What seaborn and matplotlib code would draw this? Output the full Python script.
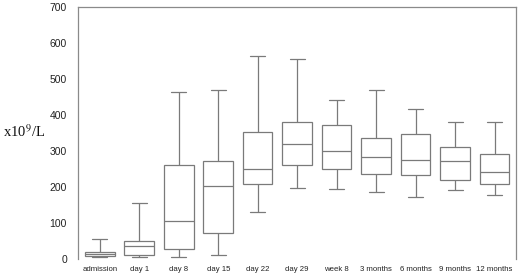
import matplotlib
matplotlib.use("Agg")
import matplotlib.pyplot as plt
import seaborn as sns
import pandas as pd

categories = ["admission", "day 1", "day 8", "day 15", "day 22", "day 29",
              "week 8", "3 months", "6 months", "9 months", "12 months"]
whisker_low = [6, 6, 8, 13, 132, 198, 195, 186, 174, 192, 180]
q1 = [10, 12, 28, 74, 210, 262, 250, 237, 234, 220, 210]
median = [14, 37, 108, 205, 250, 320, 300, 284, 276, 273, 244]
q3 = [20, 52, 261, 274, 353, 381, 373, 338, 348, 313, 293]
whisker_high = [56, 157, 465, 472, 565, 558, 443, 472, 419, 381, 381]
y_ticks = [0, 100, 200, 300, 400, 500, 600, 700]

rows = []
for i, c in enumerate(categories):
    for v in (whisker_low[i], q1[i], median[i], q3[i], whisker_high[i]):
        rows.append({"time": c, "value": v})
df = pd.DataFrame(rows)

sns.set_theme(style="white")
plt.rcParams["mathtext.fontset"] = "stix"
fig = plt.figure(figsize=(5.2, 2.74), dpi=100)
ax = fig.add_axes([0.15, 0.053, 0.843, 0.92])

lc = "#7a7a7a"
sns.boxplot(data=df, x="time", y="value", order=categories, whis=(0, 100),
            width=0.75, color="white", linecolor=lc, linewidth=0.9,
            showfliers=False, ax=ax)

ax.set_ylim(0, 700)
ax.set_xlim(-0.55, 10.55)
ax.set_yticks(y_ticks)
ax.set_yticklabels([str(t) for t in y_ticks], fontsize=7.5,
                   family=["Liberation Sans", "DejaVu Sans"], color="#222222")
ax.set_xticks(range(len(categories)))
ax.set_xticklabels(categories, fontsize=5.6,
                   family=["Liberation Sans", "DejaVu Sans"], color="#222222")
ax.tick_params(axis="both", direction="in", length=3, width=0.6, colors="#aaaaaa",
               labelcolor="#222222")
ax.tick_params(axis="y", pad=8)
ax.tick_params(axis="x", pad=5)
ax.set_xlabel("")
ax.set_ylabel("")
for s in ("left", "top", "right"):
    ax.spines[s].set_color("#8a8a8a")
    ax.spines[s].set_linewidth(0.9)
ax.spines["bottom"].set_visible(False)

fig.text(0.005, 0.52, r"x10$^{9}$/L", fontsize=10.5, family="Liberation Serif",
         color="#111111", ha="left", va="center")
fig.savefig("out.png", dpi=100)
